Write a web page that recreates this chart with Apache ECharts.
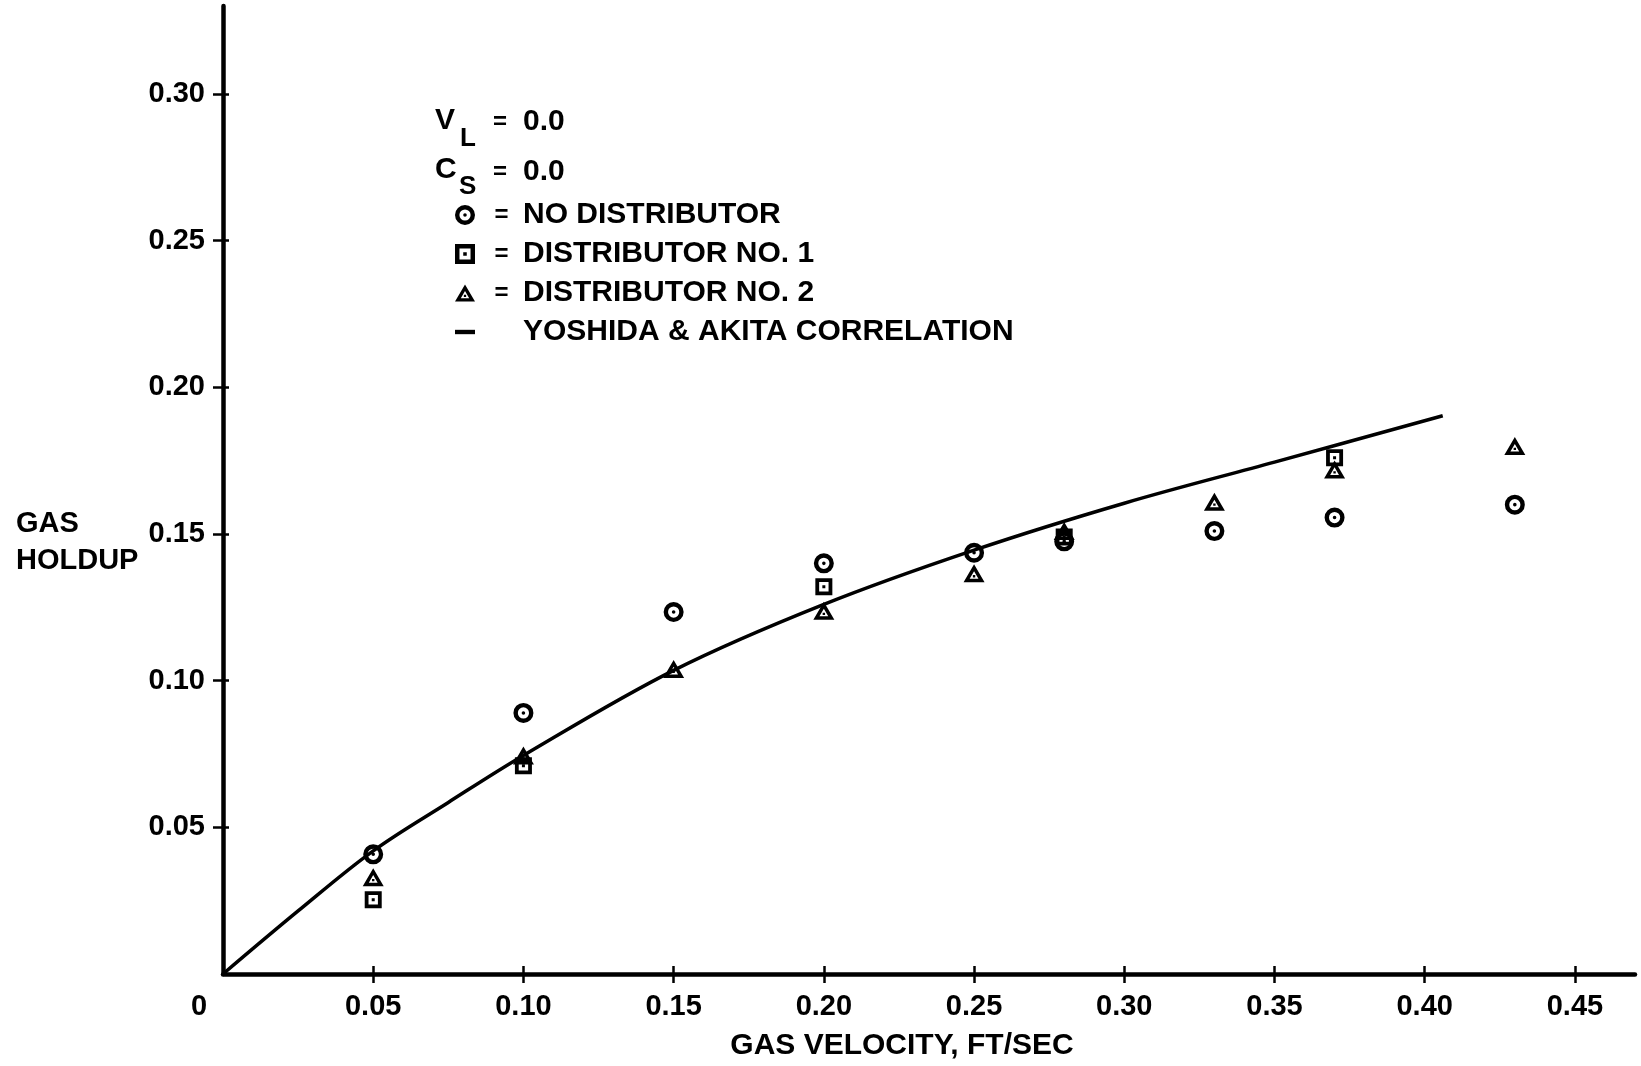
<!DOCTYPE html>
<html><head><meta charset="utf-8">
<style>html,body{margin:0;padding:0;background:#fff}#c{width:1641px;height:1066px}</style>
<script src="https://cdn.jsdelivr.net/npm/echarts@6/dist/echarts.min.js"></script>
</head><body><div id="c"></div>
<script>
// Tick values
const xTicks = [0.05, 0.10, 0.15, 0.20, 0.25, 0.30, 0.35, 0.40, 0.45];
const yTicks = [0.05, 0.10, 0.15, 0.20, 0.25, 0.30];
// Series: NO DISTRIBUTOR (circles)
const noDistX = [0.05, 0.10, 0.15, 0.20, 0.25, 0.28, 0.33, 0.37, 0.43];
const noDistY = [0.0408, 0.089, 0.1234, 0.140, 0.1436, 0.1475, 0.151, 0.1556, 0.160];
// DISTRIBUTOR NO. 1 (squares)
const dist1X = [0.05, 0.10, 0.20, 0.28, 0.37];
const dist1Y = [0.0253, 0.071, 0.132, 0.149, 0.176];
// DISTRIBUTOR NO. 2 (triangles)
const dist2X = [0.05, 0.10, 0.15, 0.20, 0.25, 0.28, 0.33, 0.37, 0.43];
const dist2Y = [0.033, 0.0745, 0.104, 0.1238, 0.1366, 0.151, 0.161, 0.172, 0.180];
// YOSHIDA & AKITA CORRELATION curve
const curveX = [0, 0.025, 0.05, 0.075, 0.10, 0.15, 0.20, 0.25, 0.30, 0.35, 0.406];
const curveY = [0, 0.0215, 0.042, 0.0585, 0.0745, 0.1035, 0.126, 0.1445, 0.1605, 0.1745, 0.1903];

const FONT = '"Liberation Sans", Arial, sans-serif';
const zip = (a, b) => a.map((v, i) => [v, b[i]]);

const ringPath = 'path://M0,-10A10,10 0 1,1 0,10A10,10 0 1,1 0,-10ZM0,-5.6A5.6,5.6 0 1,0 0,5.6A5.6,5.6 0 1,0 0,-5.6ZM0,-1.8A1.8,1.8 0 1,1 0,1.8A1.8,1.8 0 1,1 0,-1.8Z';
const squarePath = 'path://M-8.5,-8.5H8.5V8.5H-8.5ZM-4.7,-4.7V4.7H4.7V-4.7ZM-1.5,-1.5H1.5V1.5H-1.5Z';
const triPath = 'path://M0,-10L10.5,8H-10.5ZM0,-3.1L-4.4,4.5H4.4ZM-1.2,0.8H1.2V3.1H-1.2Z';

const tickStyle = {color: '#000', width: 2.5};
const chart = echarts.init(document.getElementById('c'), null, {renderer: 'canvas'});
chart.setOption({
  animation: false,
  backgroundColor: '#fff',
  grid: {left: 223, top: 6, width: 1412, height: 975, containLabel: false},
  xAxis: [{
    type: 'value', min: 0, max: 0.47, interval: 0.05, position: 'bottom',
    axisLine: {show: true, onZero: false, lineStyle: {color: '#000', width: 4.5}},
    axisTick: {show: true, customValues: xTicks, length: 9, lineStyle: tickStyle},
    axisLabel: {
      customValues: [0].concat(xTicks), margin: 18,
      fontFamily: FONT, fontWeight: 'bold', fontSize: 29, color: '#000',
      formatter: v => v === 0 ? '{z|0}' : v.toFixed(2),
      rich: {z: {padding: [0, 48, 0, 0], fontFamily: FONT, fontWeight: 'bold', fontSize: 29, color: '#000'}}
    },
    splitLine: {show: false},
    name: 'GAS VELOCITY, FT/SEC', nameLocation: 'middle', nameGap: 57,
    nameTextStyle: {fontFamily: FONT, fontWeight: 'bold', fontSize: 30, color: '#000', padding: [0, 54, 0, 0]}
  }, {
    type: 'value', min: 0, max: 0.47, interval: 0.05, position: 'bottom',
    axisLine: {show: false, onZero: false},
    axisTick: {show: true, inside: true, customValues: xTicks, length: 8, lineStyle: tickStyle},
    axisLabel: {show: false}, splitLine: {show: false}
  }],
  yAxis: [{
    type: 'value', min: 0, max: 0.33, interval: 0.05, position: 'left',
    axisLine: {show: true, onZero: false, lineStyle: {color: '#000', width: 4.5}},
    axisTick: {show: true, customValues: yTicks, length: 10, lineStyle: tickStyle},
    axisLabel: {
      customValues: yTicks, margin: 18,
      fontFamily: FONT, fontWeight: 'bold', fontSize: 29, color: '#000',
      formatter: v => v.toFixed(2)
    },
    splitLine: {show: false}
  }, {
    type: 'value', min: 0, max: 0.33, interval: 0.05, position: 'left',
    axisLine: {show: false, onZero: false},
    axisTick: {show: true, inside: true, customValues: yTicks, length: 6, lineStyle: tickStyle},
    axisLabel: {show: false}, splitLine: {show: false}
  }],
  legend: {
    orient: 'vertical', left: 450, top: 195,
    itemWidth: 20, itemHeight: 20, itemGap: 9, selectedMode: false,
    data: [
      {name: 'NO DISTRIBUTOR'},
      {name: 'DISTRIBUTOR NO. 1'},
      {name: 'DISTRIBUTOR NO. 2'},
      {name: 'YOSHIDA & AKITA CORRELATION', icon: 'path://M0,0H16V3.5H0Z'}
    ],
    formatter: name => name.indexOf('YOSHIDA') === 0 ? '{eq| }{t|' + name + '}' : '{eq|=}{t|' + name + '}',
    textStyle: {
      fontFamily: FONT, fontWeight: 'bold', fontSize: 30, color: '#000', lineHeight: 30,
      rich: {
        eq: {width: 43, align: 'center', fontFamily: FONT, fontWeight: 'bold', fontSize: 24, color: '#000'},
        t: {fontFamily: FONT, fontWeight: 'bold', fontSize: 30, color: '#000'}
      }
    }
  },
  graphic: [
    {type: 'text', x: 435, y: 121, style: {text: 'V', font: 'bold 30px ' + FONT, fill: '#000', verticalAlign: 'middle'}},
    {type: 'text', x: 460, y: 139, style: {text: 'L', font: 'bold 26px ' + FONT, fill: '#000', verticalAlign: 'middle'}},
    {type: 'text', x: 500, y: 122, style: {text: '=', font: 'bold 24px ' + FONT, fill: '#000', align: 'center', verticalAlign: 'middle'}},
    {type: 'text', x: 523, y: 122, style: {text: '0.0', font: 'bold 30px ' + FONT, fill: '#000', verticalAlign: 'middle'}},
    {type: 'text', x: 435, y: 170, style: {text: 'C', font: 'bold 30px ' + FONT, fill: '#000', verticalAlign: 'middle'}},
    {type: 'text', x: 459, y: 187, style: {text: 'S', font: 'bold 26px ' + FONT, fill: '#000', verticalAlign: 'middle'}},
    {type: 'text', x: 500, y: 172, style: {text: '=', font: 'bold 24px ' + FONT, fill: '#000', align: 'center', verticalAlign: 'middle'}},
    {type: 'text', x: 523, y: 172, style: {text: '0.0', font: 'bold 30px ' + FONT, fill: '#000', verticalAlign: 'middle'}},
    {type: 'text', x: 16, y: 524, style: {text: 'GAS', font: 'bold 29px ' + FONT, fill: '#000', verticalAlign: 'middle'}},
    {type: 'text', x: 16, y: 561, style: {text: 'HOLDUP', font: 'bold 29px ' + FONT, fill: '#000', verticalAlign: 'middle'}}
  ],
  series: [
    {
      name: 'YOSHIDA & AKITA CORRELATION', type: 'line', xAxisIndex: 0, yAxisIndex: 0,
      data: zip(curveX, curveY), smooth: 0.35, showSymbol: false, symbol: 'none',
      lineStyle: {color: '#000', width: 3.5}, itemStyle: {color: '#000'}, z: 2
    },
    {
      name: 'NO DISTRIBUTOR', type: 'scatter', xAxisIndex: 0, yAxisIndex: 0,
      data: zip(noDistX, noDistY), symbol: ringPath, symbolSize: 20,
      itemStyle: {color: '#000', opacity: 1}, z: 3
    },
    {
      name: 'DISTRIBUTOR NO. 1', type: 'scatter', xAxisIndex: 0, yAxisIndex: 0,
      data: zip(dist1X, dist1Y), symbol: squarePath, symbolSize: 17,
      itemStyle: {color: '#000', opacity: 1}, z: 3
    },
    {
      name: 'DISTRIBUTOR NO. 2', type: 'scatter', xAxisIndex: 0, yAxisIndex: 0,
      data: zip(dist2X, dist2Y), symbol: triPath, symbolSize: [21, 18],
      itemStyle: {color: '#000', opacity: 1}, z: 3
    }
  ]
});
</script>
</body></html>
